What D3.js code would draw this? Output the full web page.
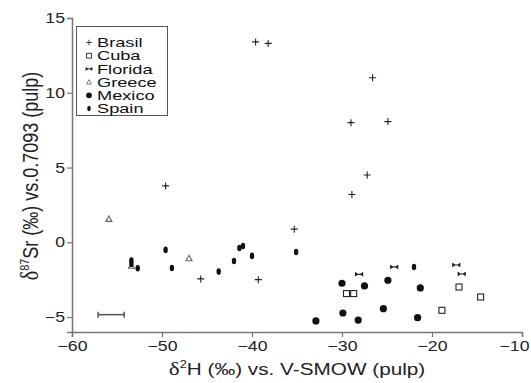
<!DOCTYPE html>
<html><head><meta charset="utf-8">
<script src="https://cdn.jsdelivr.net/npm/d3@7"></script>
<style>body{margin:0;background:#fff;} svg{display:block;font-family:"Liberation Sans",Arial,sans-serif;}</style>
</head><body>
<svg id="c" width="531" height="383"></svg>
<script>
const xTicks = [-60,-50,-40,-30,-20,-10];
const yTicks = [-5,0,5,10,15];
const seriesNames = ["Brasil","Cuba","Florida","Greece","Mexico","Spain"];
const brasil = [[-39.6,13.4],[-38.2,13.3],[-26.6,11.0],[-29.0,8.0],[-24.9,8.07],[-27.2,4.5],[-28.9,3.2],[-49.6,3.77],[-35.3,0.88],[-45.7,-2.45],[-39.3,-2.5]];
const cuba = [[-29.5,-3.43],[-28.7,-3.43],[-17.0,-2.99],[-14.6,-3.66],[-18.9,-4.55]];
const florida = [[-28.1,-2.14],[-24.2,-1.65],[-17.3,-1.52],[-16.7,-2.12]];
const greece = [[-55.9,1.56],[-53.4,-1.58],[-47.0,-1.07]];
const mexico = [[-30.0,-2.74],[-27.5,-2.92],[-24.9,-2.54],[-21.3,-3.05],[-29.9,-4.73],[-32.9,-5.26],[-28.2,-5.2],[-25.4,-4.44],[-21.6,-5.04]];
const spain = [[-53.4,-1.22],[-53.4,-1.45],[-52.7,-1.74],[-49.6,-0.51],[-48.9,-1.72],[-43.7,-1.96],[-42.0,-1.25],[-41.4,-0.38],[-41.0,-0.25],[-40.0,-0.91],[-35.1,-0.65],[-22.0,-1.65]];
const errorBar = {x:-55.65, y:-4.84, half:1.45};

const SX = 1.22; // horizontal text stretch seen in the reference
const svg = d3.select("#c");
const x = d3.scaleLinear().domain([-60,-10]).range([72,522]);
const y = d3.scaleLinear().domain([-6,15]).range([332,18]);
const fmt = d => d < 0 ? "\u2212" + Math.abs(d) : String(d);

const gx = svg.append("g").attr("transform","translate(0,332)")
  .call(d3.axisBottom(x).tickValues(xTicks).tickSizeOuter(0).tickSize(5).tickPadding(3).tickFormat(fmt));
const gy = svg.append("g").attr("transform","translate(72,0)")
  .call(d3.axisLeft(y).tickValues(yTicks).tickSizeOuter(0).tickSize(5).tickPadding(2).tickFormat(fmt));
[gx,gy].forEach(g=>{
  g.selectAll("path.domain").attr("stroke","#777").attr("stroke-width",1.5);
  g.selectAll(".tick line").attr("stroke","#777").attr("stroke-width",1.2);
  g.selectAll("text").attr("font-size",14.5).attr("fill","#222").attr("font-family","Liberation Sans, Arial, sans-serif");
});
gx.selectAll("text").attr("y",9).attr("transform",`scale(${SX},1)`);
gx.selectAll("text").filter(d=>d===-10).attr("x",-8/SX);
gy.selectAll("text").attr("x",-7/SX).attr("transform",`scale(${SX},1)`);

const col = "#222";
const markers = {
  Brasil: (g)=>g.append("path").attr("d","M-3.5,0H3.5M0,-3.5V3.5").attr("stroke",col).attr("stroke-width",1.1).attr("fill","none"),
  Cuba: (g)=>g.append("rect").attr("x",-3).attr("y",-3).attr("width",6).attr("height",6).attr("fill","#fff").attr("stroke",col).attr("stroke-width",1.1),
  Florida: (g)=>g.append("path").attr("d","M-3.5,-2V2M3.5,-2V2M-3.5,0H3.5M-3.5,-1.2L-1.5,0L-3.5,1.2ZM3.5,-1.2L1.5,0L3.5,1.2Z").attr("stroke",col).attr("stroke-width",1.2).attr("fill",col),
  Greece: (g)=>g.append("path").attr("d","M0,-3L3,2.4H-3Z").attr("fill","#fff").attr("stroke","#666").attr("stroke-width",1.1),
  Mexico: (g)=>g.append("circle").attr("r",3.6).attr("fill","#111"),
  Spain: (g)=>g.append("ellipse").attr("rx",2.2).attr("ry",3.3).attr("fill","#111")
};
const data = {Brasil:brasil, Cuba:cuba, Florida:florida, Greece:greece, Mexico:mexico, Spain:spain};
const order = ["Greece","Spain","Mexico","Cuba","Florida","Brasil"];
order.forEach(name=>{
  data[name].forEach(d=>{
    const g = svg.append("g").attr("transform",`translate(${x(d[0])},${y(d[1])})`);
    markers[name](g);
  });
});

// error bar
const eb = svg.append("g").attr("stroke","#555").attr("stroke-width",1.5);
eb.append("line").attr("x1",x(errorBar.x-errorBar.half)).attr("x2",x(errorBar.x+errorBar.half)).attr("y1",y(errorBar.y)).attr("y2",y(errorBar.y));
[errorBar.x-errorBar.half, errorBar.x+errorBar.half].forEach(v=>{
  eb.append("line").attr("x1",x(v)).attr("x2",x(v)).attr("y1",y(errorBar.y)-3).attr("y2",y(errorBar.y)+3);
});

// legend
const lg = svg.append("g");
lg.append("rect").attr("x",76.5).attr("y",26.5).attr("width",91).attr("height",89).attr("fill","#fff").attr("stroke","#555").attr("stroke-width",1);
seriesNames.forEach((n,i)=>{
  const cy = 42.5 + i*13.2;
  const g = lg.append("g").attr("transform",`translate(89,${cy}) scale(0.8)`);
  markers[n](g);
  lg.append("text").attr("transform",`translate(97,${cy+4.7}) scale(1.4,1)`).attr("font-size",13).attr("fill","#111").text(n);
});

// titles
const xt = svg.append("text").attr("transform",`translate(297,375) scale(${SX},1)`).attr("text-anchor","middle").attr("font-size",17).attr("fill","#222");
xt.append("tspan").attr("font-family","Liberation Serif, Times New Roman, serif").attr("font-size",19).text("\u03b4");
xt.append("tspan").attr("font-size",10.5).attr("dy",-7).text("2");
xt.append("tspan").attr("dy",7).text("H (\u2030) vs. V-SMOW (pulp)");

const yt = svg.append("text").attr("transform",`translate(38,176) scale(${SX},1) rotate(-90)`).attr("text-anchor","middle").attr("font-size",18).attr("fill","#222");
yt.append("tspan").attr("font-family","Liberation Serif, Times New Roman, serif").attr("font-size",20).text("\u03b4");
yt.append("tspan").attr("font-size",11).attr("dy",-7).text("87");
yt.append("tspan").attr("dy",7).text("Sr (\u2030) vs.0.7093 (pulp)");
</script>
</body></html>
